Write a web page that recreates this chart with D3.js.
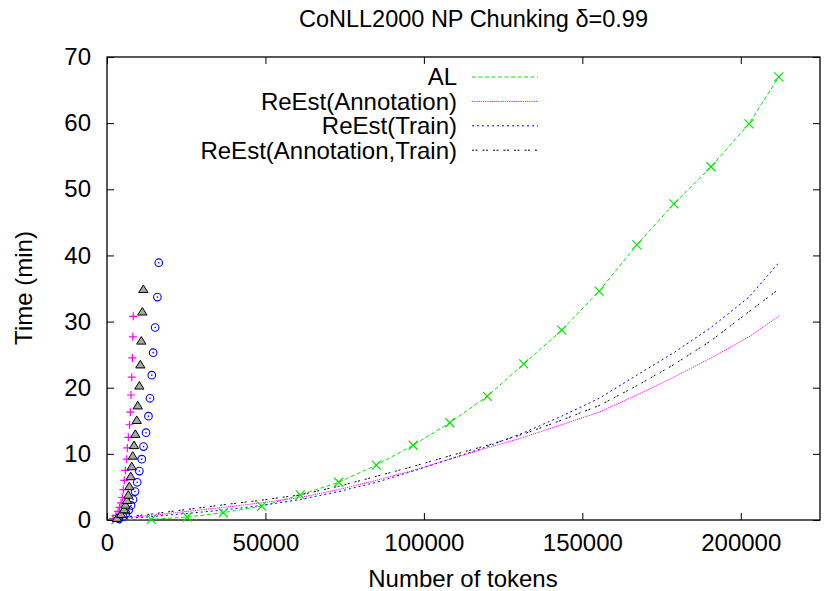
<!DOCTYPE html>
<html>
<head>
<meta charset="utf-8">
<script src="https://cdn.jsdelivr.net/npm/d3@7"></script>
<style>
  html, body { margin: 0; padding: 0; background: #fff; }
  svg { display: block; }
  text { font-family: "Liberation Sans", Arial, sans-serif; fill: #000; }
</style>
</head>
<body>
<script>
// ---------------- data ----------------
const titleText = "CoNLL2000 NP Chunking \u03b4=0.99";
const xLabel = "Number of tokens";
const yLabel = "Time (min)";
const xTicks = [0, 50000, 100000, 150000, 200000];
const yTicks = [0, 10, 20, 30, 40, 50, 60, 70];

// token positions of the line points (shared by all series)
const lineTokens = [2850, 14000, 25300, 36700, 48800, 61000, 73100, 85000, 96600, 108200,
                    120000, 131500, 143500, 155300, 167200, 178900, 190600, 202600, 212000];

const alTime        = [0.05, 0.1, 0.45, 1.1, 2.1, 3.8, 5.7, 8.3, 11.3, 14.7,
                       18.7, 23.6, 28.7, 34.6, 41.6, 47.8, 53.4, 59.9, 67.0];
const reAnnTime     = [0.2, 0.7, 1.3, 1.9, 2.6, 3.4, 4.6, 6.0, 7.5, 9.2,
                       10.9, 12.5, 14.4, 16.3, 18.9, 21.6, 24.5, 27.7, 30.8];
const reTrainTime   = [0.15, 0.5, 1.0, 1.5, 2.2, 3.1, 4.3, 5.7, 7.4, 9.2,
                       11.1, 13.2, 15.7, 18.4, 21.9, 25.3, 29.1, 33.7, 38.9];
const reBothTime    = [0.3, 0.9, 1.6, 2.3, 3.0, 3.8, 5.1, 6.6, 8.1, 9.7,
                       11.3, 13.0, 15.1, 17.3, 20.3, 23.5, 27.1, 31.5, 34.9];

// token positions where the point symbols of the ReEst series were drawn
const reAnnMarkTokens   = [1900, 2840, 3480, 3950, 4420, 4830, 5150, 5470, 5780, 6230,
                           6410, 6730, 7110, 7360, 7580, 7810, 8000, 8150, 8280];
const reTrainMarkTokens = [3790, 5060, 6000, 6860, 7580, 8220, 8850, 9540, 10210, 10970,
                           11530, 12320, 13080, 13560, 14130, 14570, 15200, 15900, 16340];
const reBothMarkTokens  = [3160, 4420, 5370, 5850, 6320, 6730, 7050, 7490, 7810, 8120,
                           8530, 8950, 9390, 9710, 10210, 10520, 10840, 11160, 11470];

const seriesNames = ["AL", "ReEst(Annotation)", "ReEst(Train)", "ReEst(Annotation,Train)"];

// ---------------- layout ----------------
const W = 825, H = 591;
const plot = { left: 107, right: 820, top: 57, bottom: 520 };
const FS = 24;

const series = [
  { name: seriesNames[0], color: "#00e600", dash: "4,2.5", time: alTime,      mark: lineTokens,        sym: "x" },
  { name: seriesNames[1], color: "#ff00ff", dash: "1.2,1", time: reAnnTime,   mark: reAnnMarkTokens,   sym: "plus" },
  { name: seriesNames[2], color: "#0000ff", dash: "2,3",   time: reTrainTime, mark: reTrainMarkTokens, sym: "circle" },
  { name: seriesNames[3], color: "#000000", dash: "2,1.5,2,5", time: reBothTime, mark: reBothMarkTokens, sym: "tri" }
];

const x = d3.scaleLinear().domain([0, 225000]).range([plot.left, plot.right]);
const y = d3.scaleLinear().domain([0, 70]).range([plot.bottom, plot.top]);

const svg = d3.select("body").append("svg").attr("width", W).attr("height", H);
svg.append("rect").attr("width", W).attr("height", H).attr("fill", "#fff");

// title & axis labels
svg.append("text").attr("x", 648).attr("y", 27).attr("text-anchor", "end")
  .attr("font-size", FS - 0.5).text(titleText);
svg.append("text").attr("x", 463).attr("y", 587).attr("text-anchor", "middle")
  .attr("font-size", FS).text(xLabel);
svg.append("text").attr("transform", "translate(32,288) rotate(-90)").attr("text-anchor", "middle")
  .attr("font-size", FS).text(yLabel);

// axes with inward ticks (gnuplot style, mirrored)
const tickLen = 7;
const gx = svg.append("g").attr("transform", `translate(0,${plot.bottom})`)
  .call(d3.axisBottom(x).tickValues(xTicks).tickFormat(d3.format("d")).tickSize(-tickLen).tickPadding(14));
const gxTop = svg.append("g").attr("transform", `translate(0,${plot.top})`)
  .call(d3.axisTop(x).tickValues(xTicks).tickFormat("").tickSize(-tickLen));
const gy = svg.append("g").attr("transform", `translate(${plot.left},0)`)
  .call(d3.axisLeft(y).tickValues(yTicks).tickSize(-tickLen).tickPadding(16));
const gyR = svg.append("g").attr("transform", `translate(${plot.right},0)`)
  .call(d3.axisRight(y).tickValues(yTicks).tickFormat("").tickSize(-tickLen));
[gx, gxTop, gy, gyR].forEach(g => {
  g.select(".domain").remove();
  g.selectAll(".tick line").attr("stroke", "#000").attr("stroke-width", 1);
  g.selectAll(".tick text").attr("font-size", FS).attr("font-family", "Liberation Sans, Arial, sans-serif").attr("fill", "#000");
});
gx.selectAll(".tick text").attr("dy", "0.71em");

// border
svg.append("rect").attr("x", plot.left).attr("y", plot.top)
  .attr("width", plot.right - plot.left).attr("height", plot.bottom - plot.top)
  .attr("fill", "none").attr("stroke", "#000").attr("stroke-width", 1.3);

// lines
const line = d3.line().x(d => x(d[0])).y(d => y(d[1]));
series.forEach(s => {
  const pts = lineTokens.map((t, i) => [t, s.time[i]]);
  svg.append("path").datum(pts).attr("d", line)
    .attr("fill", "none").attr("stroke", s.color).attr("stroke-width", 1)
    .attr("stroke-dasharray", s.dash);
});

// markers
function drawSym(g, sym, cx, cy, color) {
  if (sym === "x") {
    const r = 4.5;
    g.append("path").attr("d", `M${cx-r},${cy-r}L${cx+r},${cy+r}M${cx-r},${cy+r}L${cx+r},${cy-r}`)
      .attr("stroke", color).attr("stroke-width", 1.2).attr("fill", "none");
  } else if (sym === "plus") {
    const r = 4;
    g.append("path").attr("d", `M${cx-r},${cy}L${cx+r},${cy}M${cx},${cy-r}L${cx},${cy+r}`)
      .attr("stroke", color).attr("stroke-width", 1.2).attr("fill", "none");
  } else if (sym === "circle") {
    g.append("circle").attr("cx", cx).attr("cy", cy).attr("r", 3.8)
      .attr("stroke", color).attr("stroke-width", 1.1).attr("fill", "none");
    g.append("circle").attr("cx", cx).attr("cy", cy).attr("r", 0.8).attr("fill", color);
  } else if (sym === "tri") {
    const h = 4.2;
    g.append("path").attr("d", `M${cx},${cy-h}L${cx+h*1.1},${cy+h*0.8}L${cx-h*1.1},${cy+h*0.8}Z`)
      .attr("stroke", color).attr("stroke-width", 1).attr("fill", "#a8a8a8");
  }
}
series.forEach(s => {
  const g = svg.append("g");
  s.mark.forEach((t, i) => drawSym(g, s.sym, x(t), y(s.time[i]), s.color));
});

// legend
const legTextX = 457, legLineX1 = 472, legLineX2 = 538, legY0 = 77, legDy = 24.4;
series.forEach((s, i) => {
  const yy = legY0 + i * legDy;
  svg.append("text").attr("x", legTextX).attr("y", yy).attr("dy", "0.35em")
    .attr("text-anchor", "end").attr("font-size", FS).text(s.name);
  svg.append("line").attr("x1", legLineX1).attr("x2", legLineX2).attr("y1", yy).attr("y2", yy)
    .attr("stroke", s.color).attr("stroke-width", 1).attr("stroke-dasharray", s.dash);
});
</script>
</body>
</html>
